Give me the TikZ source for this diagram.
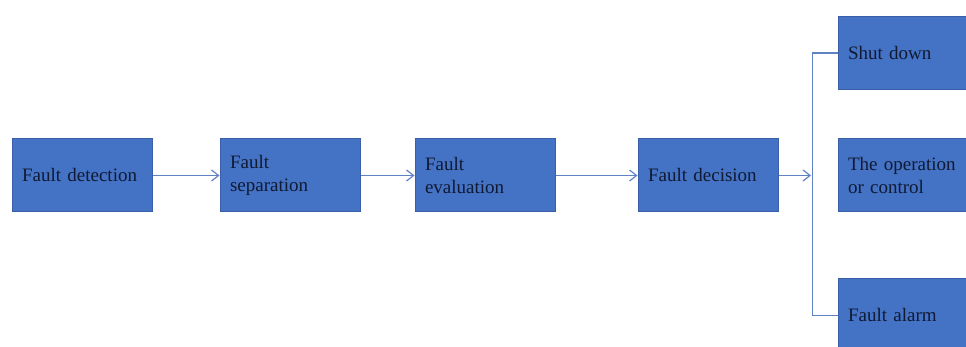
\documentclass[tikz,border=0pt]{standalone}
\usepackage{fontspec}
\setmainfont{Liberation Serif}
\usetikzlibrary{arrows.meta}
\definecolor{boxfill}{HTML}{4472C4}
\definecolor{boxline}{HTML}{3A5EA8}
\definecolor{conn}{HTML}{5F82C4}
\definecolor{txt}{HTML}{101A33}
\tikzset{
  fbox/.style={draw=boxline, line width=1pt, fill=boxfill, text=txt,
    minimum width=140pt, minimum height=73pt, inner xsep=10pt,
    text width=120pt, align=left,
    font=\fontsize{19}{23}\selectfont},
  link/.style={draw=conn, line width=1.2pt},
  arr/.style={link, -{Straight Barb[length=7pt,width=11pt,line width=1.2pt]}}
}
\begin{document}
\begin{tikzpicture}[x=1pt,y=-1pt]
\useasboundingbox (0,0) rectangle (966,347);
\clip (0,0) rectangle (966,347);
\node[fbox] (det) at (82,175.5) {Fault detection};
\node[fbox] (sep) at (290,175.5) {Fault\\separation};
\node[fbox] (eva) at (485,175.5) {Fault\\evaluation};
\node[fbox] (dec) at (708,175.5) {Fault decision};
\node[fbox] (shut) at (908,53) {Shut down};
\node[fbox] (oper) at (908,175.5) {The operation\\or control};
\node[fbox] (alarm) at (908,315.5) {Fault alarm};
\coordinate (bend) at (811,175.5);
\draw[arr] (det.east) -- (sep.west);
\draw[arr] (sep.east) -- (eva.west);
\draw[arr] (eva.east) -- (dec.west);
\draw[arr] (dec.east) -- (bend);
\draw[link] (shut.west) -- ++(-25,0) |- (alarm.west);
\end{tikzpicture}
\end{document}
